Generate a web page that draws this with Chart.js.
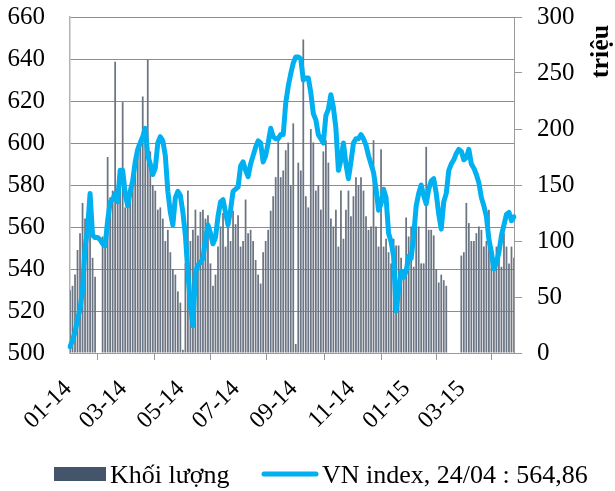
<!DOCTYPE html>
<html><head><meta charset="utf-8">
<script src="https://cdn.jsdelivr.net/npm/chart.js@4.4.1/dist/chart.umd.min.js"></script>
<style>html,body{margin:0;padding:0;background:#fff;}</style>
</head><body>
<canvas id="c" width="615" height="491"></canvas>
<script>
// ---- data ----
const monthLabels = ['01-14','02-14','03-14','04-14','05-14','06-14','07-14','08-14','09-14','10-14','11-14','12-14','01-15','02-15','03-15','04-15'];
const pointsPerMonth = [10,12,12,11,11,11,12,11,11,12,11,11,11,11,11,10];
const tickMonths = ['01-14','03-14','05-14','07-14','09-14','11-14','01-15','03-15'];
const leftAxisTicks = [500,520,540,560,580,600,620,640,660];
const rightAxisTicks = [0,50,100,150,200,250,300];
const seriesNames = ['Khối lượng','VN index, 24/04 : 564,86'];
const rightTitle = 'triệu';

const vnIndex = [
503,506,510,516,521,530,550,559,576,556,
555,555,554,552,551,563,572,573,576,572,
587,587,576,570,577,582,591,597,600,603,
607,594,590,585,588,600,603,601,594,577,
567,561,574,577,575,567,556,538,523,513,
538,542,543,545,554,561,557,552,555,565,
572,573,567,561,568,577,578,579,589,591,
587,584,590,594,598,601,600,591,594,600,
607,603,602,602,604,604,619,627,633,638,
641,641,640,630,631,631,624,614,611,604,
602,600,613,616,623,617,607,587,592,600,
590,583,591,600,602,602,604,602,599,594,
590,586,578,568,571,578,574,557,553,546,
520,530,539,536,539,546,545,556,570,576,
580,575,571,578,582,583,576,566,559,572,
576,587,590,592,595,597,596,592,593,597,
590,588,585,581,574,570,565,554,548,540,
543,548,556,561,566,567,563,564.86
];

const volume = [
56,60,70,92,107,134,120,103,118,85,
68,null,null,104,98,175,139,145,260,150,
160,224,130,140,150,157,160,187,190,229,
200,262,180,150,145,128,130,120,100,110,
90,75,70,55,45,3,80,145,100,110,
128,105,126,128,120,123,80,60,70,95,
113,125,95,112,100,127,115,123,95,100,
137,107,110,100,83,70,62,90,100,110,
127,140,157,190,157,163,181,188,150,205,
8,170,163,280,140,130,200,188,145,150,
128,180,190,170,120,113,128,95,145,102,
128,145,122,140,157,150,157,145,122,110,
113,190,113,95,182,95,102,90,80,102,
96,96,85,75,121,104,113,77,121,113,
80,80,184,110,110,105,75,63,70,65,
60,null,null,null,null,null,87,90,134,116,
100,100,107,113,110,95,100,128,95,77,
95,90,77,107,95,80,95,85
];

// ---- build categories ----
const categories = [];
monthLabels.forEach((m, k) => { for (let j = 0; j < pointsPerMonth[k]; j++) categories.push(m); });

const FONT = 'Liberation Serif';
const LINE_COLOR = '#00b0f0';
const BAR_COLOR = '#6c7583';
const BAR_LEGEND = '#44546a';

const extras = {
  id: 'extras',
  afterDraw(chart) {
    const ctx = chart.ctx;
    ctx.save();
    // legend
    ctx.fillStyle = BAR_LEGEND;
    ctx.fillRect(54, 467, 52, 14);
    ctx.font = '26px "' + FONT + '"';
    ctx.fillStyle = '#000';
    ctx.textBaseline = 'alphabetic';
    ctx.textAlign = 'left';
    ctx.fillText(chart.data.datasets[1].label, 110, 483);
    ctx.strokeStyle = LINE_COLOR;
    ctx.lineWidth = 5;
    ctx.lineCap = 'round';
    ctx.beginPath(); ctx.moveTo(264, 474); ctx.lineTo(316, 474); ctx.stroke();
    ctx.fillText(chart.data.datasets[0].label, 322, 483);
    // right axis title
    ctx.translate(601.5, 51.5);
    ctx.rotate(-Math.PI / 2);
    ctx.font = 'bold 26px "' + FONT + '"';
    ctx.textAlign = 'center';
    ctx.textBaseline = 'middle';
    ctx.fillText(rightTitle, 0, 0);
    ctx.restore();
  }
};

new Chart(document.getElementById('c'), {
  data: {
    labels: categories,
    datasets: [
      { type: 'line', label: seriesNames[1], data: vnIndex, yAxisID: 'y',
        borderColor: LINE_COLOR, borderWidth: 5, pointRadius: 0, tension: 0,
        borderJoinStyle: 'round', borderCapStyle: 'round', order: 1 },
      { type: 'bar', label: seriesNames[0], data: volume, yAxisID: 'y1',
        backgroundColor: BAR_COLOR, barPercentage: 0.7, categoryPercentage: 1, order: 2 }
    ]
  },
  options: {
    responsive: false, animation: false, devicePixelRatio: 1,
    layout: { padding: { top: 17, left: 0, right: 0, bottom: 0 } },
    plugins: { legend: { display: false }, tooltip: { enabled: false } },
    scales: {
      x: {
        type: 'category', offset: false,
        grid: { drawOnChartArea: false, drawTicks: true, tickLength: 7, color: '#9a9a9a' },
        border: { color: '#9a9a9a' },
        ticks: {
          autoSkip: false, maxRotation: 45, minRotation: 45, padding: 15, labelOffset: -2, color: '#000',
          font: { family: FONT, size: 24 },
          callback: function (value, index) {
            const lab = categories[index];
            if ((index === 0 || categories[index - 1] !== lab) && tickMonths.includes(lab)) return lab;
            return null;
          }
        },
        afterFit(s) { s.height = 138; s.paddingLeft = 0; s.paddingRight = 0; }
      },
      y: {
        position: 'left', min: leftAxisTicks[0], max: leftAxisTicks[leftAxisTicks.length - 1],
        afterBuildTicks(s) { s.ticks = leftAxisTicks.map(v => ({ value: v })); },
        grid: { color: '#8c8c8c', drawTicks: false },
        border: { color: '#b3b3b3', width: 1.5 },
        ticks: { padding: 25, color: '#000', font: { family: FONT, size: 25 } },
        afterFit(s) { s.width = 70; s.paddingTop = 0; s.paddingBottom = 0; }
      },
      y1: {
        position: 'right', min: rightAxisTicks[0], max: rightAxisTicks[rightAxisTicks.length - 1],
        afterBuildTicks(s) { s.ticks = rightAxisTicks.map(v => ({ value: v })); },
        grid: { drawOnChartArea: false, drawTicks: true, tickLength: 8, color: '#9a9a9a' },
        border: { color: '#9a9a9a' },
        ticks: { padding: 15, color: '#000', font: { family: FONT, size: 25 } },
        afterFit(s) { s.width = 101; s.paddingTop = 0; s.paddingBottom = 0; }
      }
    }
  },
  plugins: [extras]
});
</script>
</body></html>
